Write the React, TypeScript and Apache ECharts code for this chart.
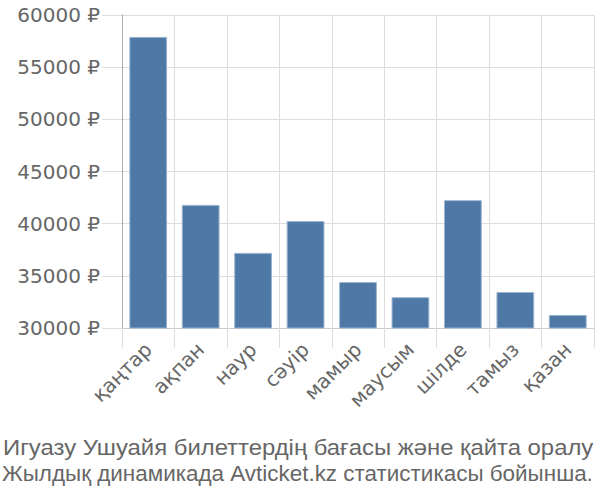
import React, { useEffect, useRef } from "react";
import * as echarts from "echarts";

const categories = ["қаңтар", "ақпан", "наур", "сәуір", "мамыр", "маусым", "шілде", "тамыз", "қазан"];
const prices = [57900, 41800, 37200, 40250, 34400, 32950, 42250, 33450, 31250];
const titleLines = [
  "Игуазу Ушуайя билеттердің бағасы және қайта оралу",
  "Жылдық динамикада Avticket.kz статистикасы бойынша.",
];

const FONT = "DejaVu Sans, sans-serif";
const TITLE_FONT = "Liberation Sans, Arial, sans-serif";

export default function App() {
  const ref = useRef<HTMLDivElement>(null);
  useEffect(() => {
    if (!ref.current) return;
    const chart = echarts.init(ref.current, null, { renderer: "svg" });
    chart.setOption({
      animation: false,
      graphic: [
        {
          type: "text",
          x: 3,
          y: 447,
          scaleX: 1.085,
          style: {
            text: titleLines[0],
            font: `22px ${TITLE_FONT}`,
            fill: "#666",
            textVerticalAlign: "middle",
          },
        },
        {
          type: "text",
          x: 2,
          y: 474,
          scaleX: 1.02,
          style: {
            text: titleLines[1],
            font: `22px ${TITLE_FONT}`,
            fill: "#666",
            textVerticalAlign: "middle",
          },
        },
        {
          type: "line",
          shape: { x1: 122.5, y1: 328, x2: 122.5, y2: 348 },
          style: { stroke: "#aaa", lineWidth: 1 },
        },
      ],
      grid: { left: 122, right: 6, top: 15, bottom: 172, containLabel: false },
      xAxis: {
        type: "category",
        data: categories,
        axisLine: { show: true, lineStyle: { color: "#ccc" } },
        axisTick: { show: true, length: 20, lineStyle: { color: "#ddd" } },
        splitLine: { show: true, lineStyle: { color: "#ddd" } },
        axisLabel: {
          rotate: 45,
          fontSize: 20,
          color: "#666",
          margin: 18,
          fontFamily: FONT,
        },
      },
      yAxis: {
        type: "value",
        min: 30000,
        max: 60000,
        interval: 5000,
        axisLine: { show: true, lineStyle: { color: "#aaa" } },
        axisTick: { show: true, length: 20, lineStyle: { color: "#ddd" } },
        splitLine: { show: true, lineStyle: { color: "#ddd" } },
        axisLabel: {
          fontSize: 20,
          color: "#666",
          margin: 22,
          fontFamily: FONT,
          formatter: (v: number) => `${v} ₽`,
        },
      },
      series: [
        {
          type: "bar",
          data: prices,
          barCategoryGap: "28%",
          itemStyle: { color: "#4e79a7", borderColor: "#9ab3cf", borderWidth: 1 },
        },
      ],
    });
    return () => chart.dispose();
  }, []);
  return <div ref={ref} style={{ width: 600, height: 500, position: "absolute", left: 0, top: 0 }} />;
}
